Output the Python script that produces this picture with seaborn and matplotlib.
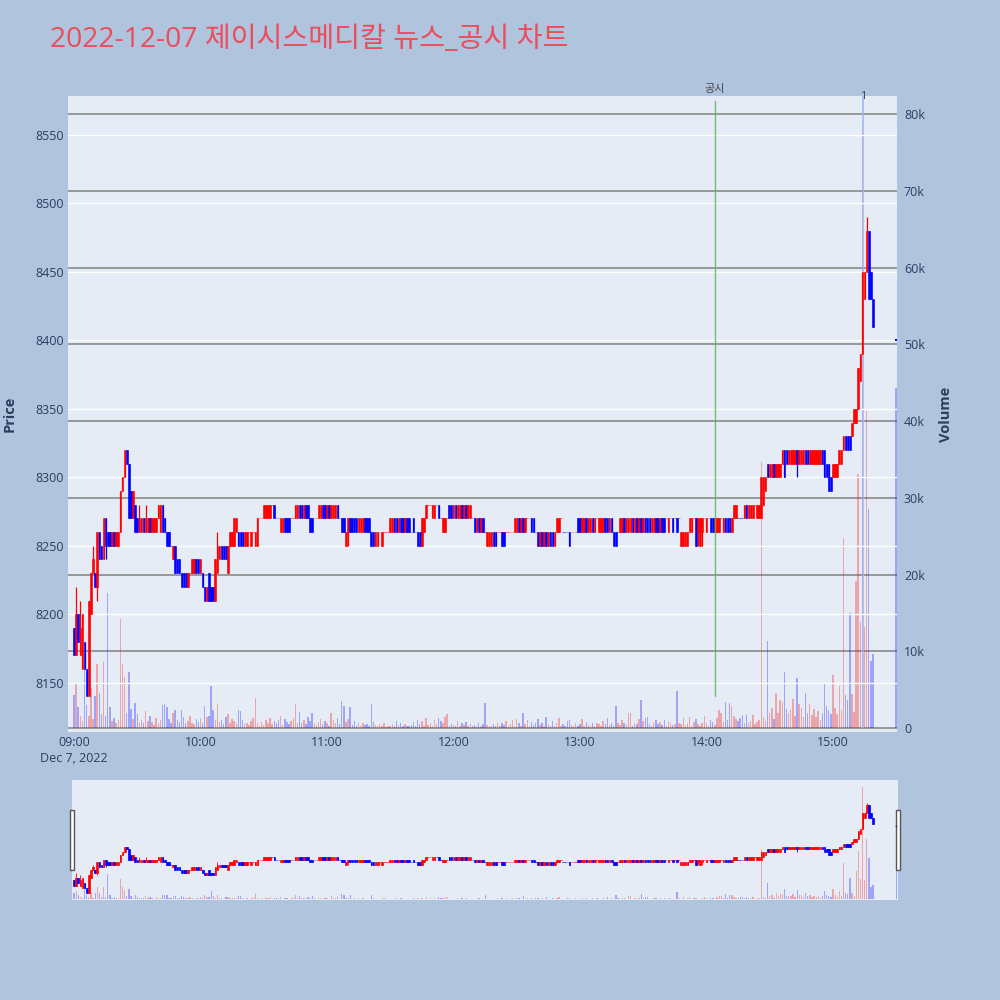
import matplotlib
matplotlib.use("Agg")
import matplotlib.pyplot as plt
import matplotlib.transforms as mtransforms
from matplotlib.patches import Rectangle
import pandas as pd
import seaborn as sns

TITLE = "2022-12-07 제이시스메디칼 뉴스_공시 차트"

# one candle per minute, minute 0 = 09:00
open_prices = [
    8190, 8170, 8200, 8170, 8160, 8180, 8160, 8140, 8200, 8230,
    8230, 8220, 8260, 8250, 8240, 8270, 8260, 8260, 8250, 8260,
    8250, 8250, 8260, 8290, 8300, 8320, 8310, 8290, 8270, 8280,
    8270, 8260, 8260, 8270, 8260, 8260, 8270, 8260, 8260, 8260,
    8270, 8260, 8280, 8270, 8260, 8260, 8250, 8240, 8250, 8240,
    8240, 8230, 8230, 8230, 8220, 8230, 8230, 8230, 8240, 8240,
    8230, 8230, 8220, 8210, 8230, 8220, 8220, 8210, 8230, 8240,
    8250, 8250, 8250, 8230, 8250, 8250, 8250, 8260, 8260, 8260,
    8260, 8250, 8250, 8260, 8250, 8260, 8250, 8250, 8270, 8270,
    8270, 8270, 8270, 8270, 8280, 8280, 8270, 8270, 8260, 8260,
    8270, 8270, 8270, 8270, 8270, 8270, 8270, 8280, 8280, 8270,
    8280, 8280, 8270, 8270, 8270, 8270, 8270, 8270, 8280, 8280,
    8270, 8280, 8270, 8270, 8270, 8280, 8270, 8270, 8270, 8250,
    8260, 8270, 8270, 8270, 8270, 8260, 8260, 8260, 8270, 8270,
    8270, 8260, 8260, 8250, 8250, 8260, 8250, 8260, 8260, 8260,
    8260, 8260, 8270, 8270, 8260, 8270, 8270, 8260, 8270, 8270,
    8260, 8270, 8260, 8260, 8260, 8250, 8260, 8270, 8280, 8280,
    8270, 8270, 8280, 8280, 8270, 8260, 8260, 8270, 8280, 8280,
    8270, 8280, 8270, 8270, 8280, 8270, 8280, 8270, 8270, 8270,
    8270, 8260, 8270, 8260, 8270, 8260, 8250, 8250, 8250, 8260,
    8260, 8260, 8260, 8260, 8260, 8260, 8260, 8260, 8260, 8260,
    8260, 8270, 8260, 8270, 8260, 8270, 8270, 8270, 8270, 8260,
    8260, 8250, 8260, 8250, 8260, 8250, 8260, 8260, 8250, 8260,
    8260, 8270, 8260, 8260, 8260, 8260, 8260, 8260, 8260, 8270,
    8270, 8260, 8260, 8270, 8260, 8260, 8270, 8260, 8270, 8260,
    8260, 8260, 8270, 8270, 8260, 8270, 8260, 8260, 8260, 8260,
    8260, 8270, 8260, 8260, 8260, 8270, 8260, 8270, 8260, 8270,
    8260, 8270, 8270, 8270, 8260, 8260, 8270, 8270, 8260, 8270,
    8270, 8270, 8260, 8270, 8270, 8270, 8270, 8270, 8250, 8250,
    8250, 8250, 8260, 8260, 8270, 8270, 8260, 8250, 8260, 8270,
    8260, 8270, 8270, 8270, 8260, 8260, 8260, 8270, 8260, 8270,
    8270, 8270, 8260, 8270, 8270, 8270, 8270, 8270, 8270, 8280,
    8270, 8270, 8270, 8280, 8270, 8270, 8270, 8280, 8290, 8310,
    8300, 8300, 8310, 8300, 8300, 8300, 8310, 8320, 8320, 8310,
    8310, 8310, 8310, 8320, 8310, 8310, 8310, 8320, 8320, 8310,
    8310, 8310, 8310, 8310, 8310, 8320, 8320, 8310, 8310, 8300,
    8300, 8300, 8300, 8310, 8310, 8320, 8330, 8330, 8330, 8330,
    8340, 8340, 8350, 8370, 8390, 8430, 8450, 8480, 8450, 8430,
]
close_prices = [
    8170, 8200, 8180, 8190, 8200, 8160, 8140, 8210, 8230, 8240,
    8220, 8260, 8240, 8240, 8270, 8250, 8250, 8250, 8260, 8250,
    8260, 8260, 8290, 8300, 8320, 8310, 8270, 8270, 8290, 8260,
    8260, 8270, 8270, 8260, 8270, 8270, 8260, 8270, 8270, 8270,
    8280, 8280, 8260, 8260, 8250, 8250, 8250, 8250, 8230, 8230,
    8230, 8220, 8220, 8220, 8230, 8230, 8240, 8240, 8230, 8230,
    8240, 8220, 8210, 8220, 8210, 8210, 8210, 8240, 8250, 8250,
    8240, 8240, 8240, 8250, 8260, 8260, 8270, 8270, 8250, 8250,
    8250, 8260, 8260, 8260, 8260, 8260, 8260, 8270, 8270, 8270,
    8280, 8280, 8280, 8280, 8280, 8270, 8270, 8270, 8270, 8270,
    8260, 8260, 8260, 8270, 8270, 8280, 8280, 8270, 8270, 8280,
    8270, 8270, 8260, 8260, 8270, 8270, 8280, 8280, 8270, 8270,
    8280, 8270, 8280, 8280, 8280, 8270, 8270, 8260, 8260, 8260,
    8270, 8260, 8260, 8260, 8260, 8270, 8270, 8270, 8260, 8260,
    8260, 8250, 8250, 8260, 8260, 8260, 8260, 8260, 8260, 8260,
    8270, 8270, 8260, 8260, 8270, 8260, 8260, 8270, 8260, 8260,
    8260, 8260, 8260, 8250, 8250, 8270, 8270, 8280, 8280, 8280,
    8280, 8280, 8280, 8270, 8270, 8270, 8270, 8270, 8270, 8270,
    8280, 8270, 8280, 8280, 8270, 8280, 8270, 8280, 8280, 8270,
    8260, 8270, 8260, 8270, 8260, 8260, 8260, 8260, 8260, 8250,
    8250, 8260, 8260, 8250, 8250, 8260, 8260, 8260, 8260, 8270,
    8270, 8260, 8270, 8260, 8270, 8270, 8270, 8260, 8260, 8260,
    8250, 8260, 8250, 8260, 8250, 8260, 8250, 8250, 8260, 8270,
    8270, 8270, 8260, 8260, 8260, 8250, 8260, 8260, 8260, 8260,
    8260, 8270, 8270, 8260, 8270, 8270, 8260, 8270, 8270, 8270,
    8270, 8270, 8260, 8260, 8270, 8260, 8250, 8250, 8260, 8270,
    8270, 8260, 8270, 8270, 8270, 8260, 8270, 8260, 8270, 8260,
    8270, 8260, 8260, 8260, 8270, 8270, 8260, 8260, 8270, 8260,
    8260, 8270, 8270, 8270, 8260, 8270, 8260, 8270, 8260, 8260,
    8260, 8260, 8270, 8270, 8270, 8250, 8270, 8270, 8270, 8270,
    8270, 8270, 8260, 8260, 8270, 8270, 8270, 8270, 8270, 8260,
    8260, 8260, 8270, 8280, 8280, 8270, 8270, 8270, 8280, 8270,
    8280, 8280, 8280, 8280, 8280, 8280, 8300, 8300, 8300, 8300,
    8310, 8310, 8300, 8310, 8310, 8310, 8320, 8300, 8310, 8320,
    8320, 8320, 8320, 8310, 8320, 8320, 8320, 8310, 8310, 8320,
    8320, 8320, 8320, 8320, 8320, 8310, 8300, 8300, 8290, 8290,
    8310, 8310, 8310, 8320, 8320, 8330, 8320, 8320, 8320, 8340,
    8350, 8350, 8380, 8390, 8450, 8450, 8480, 8430, 8430, 8410,
]
volumes = [
    4300, 5900, 2800, 1500, 900, 7600, 3000, 1600, 5200, 1200,
    4200, 8300, 4500, 1800, 8600, 1500, 17600, 2800, 900, 1300,
    600, 1100, 14200, 8400, 6700, 1900, 7300, 2500, 1200, 3200,
    1800, 700, 1100, 600, 2200, 900, 1500, 800, 400, 1300,
    600, 1000, 3000, 3100, 2800, 1200, 700, 1900, 2400, 1100,
    800, 2300, 1400, 600, 900, 1500, 700, 500, 1200, 800,
    1300, 600, 2900, 1400, 1500, 5500, 2300, 1100, 3100, 800,
    1000, 500, 1400, 1800, 700, 1200, 900, 600, 2300, 2200,
    1100, 500, 700, 400, 900, 1300, 3900, 600, 300, 800,
    400, 1000, 600, 1300, 500, 900, 700, 1100, 1500, 400,
    1200, 800, 500, 900, 1300, 3100, 700, 2100, 600, 1000,
    500, 1400, 900, 1900, 600, 400, 800, 1200, 500, 900,
    700, 300, 1900, 1000, 600, 1300, 500, 3500, 2900, 800,
    1200, 2800, 400, 900, 300, 700, 200, 600, 400, 500,
    300, 3100, 800, 400, 200, 500, 300, 600, 100, 300,
    200, 500, 300, 900, 400, 700, 200, 500, 300, 200,
    400, 800, 300, 1100, 500, 900, 300, 1300, 400, 700,
    200, 1100, 500, 1300, 900, 600, 1400, 1800, 300, 500,
    400, 200, 900, 300, 600, 400, 800, 200, 500, 300,
    400, 300, 600, 200, 500, 3200, 400, 300, 200, 500,
    300, 700, 200, 600, 400, 900, 300, 500, 1000, 300,
    1200, 700, 300, 1900, 500, 1100, 200, 800, 400, 600,
    1200, 400, 700, 300, 1400, 500, 300, 900, 200, 600,
    1300, 200, 500, 300, 900, 1100, 400, 300, 700, 200,
    500, 1200, 300, 800, 400, 200, 600, 300, 700, 500,
    300, 900, 500, 1300, 400, 700, 300, 2900, 600, 400,
    1000, 600, 500, 2000, 1900, 300, 700, 500, 1200, 3700,
    900, 1300, 1400, 500, 300, 700, 1000, 500, 800, 400,
    1100, 300, 900, 600, 400, 500, 4800, 700, 500, 1300,
    400, 600, 1400, 300, 800, 1200, 500, 300, 700, 1500,
    600, 300, 1000, 800, 400, 1300, 2400, 1900, 800, 3400,
    1100, 3200, 2900, 1600, 1200, 900, 1300, 1700, 700, 1700,
    600, 900, 1700, 500, 800, 1000, 34600, 1400, 900, 11300,
    1900, 2600, 1200, 4600, 2000, 3600, 3400, 7300, 2500, 1900,
    2400, 3800, 1600, 6500, 3100, 2600, 1400, 4600, 2000, 3100,
    1700, 2500, 1400, 2200, 1100, 1900, 5700, 2900, 2300, 1800,
    6900, 2600, 1800, 5500, 2400, 24800, 4300, 3600, 15000, 4400,
    2100, 19200, 33100, 13800, 77700, 13200, 41300, 28500, 8700, 9700,
]

# candles whose wick reaches past the body
wick_minutes = [1, 3, 9, 11, 15, 31, 34, 68, 130, 296, 298, 343, 376]
wick_highs = [8220, 8210, 8250, 8260, 8270, 8280, 8280, 8260, 8270, 8270, 8270, 8320, 8490]
wick_lows = [8170, 8170, 8230, 8210, 8240, 8260, 8260, 8230, 8250, 8250, 8250, 8300, 8450]

# 15:30 closing auction
auction_minute = 390
auction_price = 8400
auction_volume = 44300

notice_minute = 304
notice_label = "공시"
notice_span = [8140, 8575]
news_minute = 374.5
news_label = "1"

price_ticks = [8150, 8200, 8250, 8300, 8350, 8400, 8450, 8500, 8550]
volume_ticks = [0, 10000, 20000, 30000, 40000, 50000, 60000, 70000, 80000]
volume_labels = ["0", "10k", "20k", "30k", "40k", "50k", "60k", "70k", "80k"]
hour_ticks = [0, 60, 120, 180, 240, 300, 360]
hour_labels = ["09:00\nDec 7, 2022", "10:00", "11:00", "12:00", "13:00", "14:00", "15:00"]

UP = "#ff0000"
DOWN = "#0000ff"
PLOT_BG = "#e5ecf6"
PAGE_BG = "#b0c4de"
TEXT = "#2a3f5f"
PRICE_LIM = (8114, 8578.5)
VOL_LIM = (-520, 82350)


def build_frame():
    n = len(open_prices)
    df = pd.DataFrame({
        "minute": list(range(n)) + [auction_minute],
        "open": open_prices + [auction_price],
        "close": close_prices + [auction_price],
        "volume": volumes + [auction_volume],
    })
    df["high"] = df[["open", "close"]].max(axis=1)
    df["low"] = df[["open", "close"]].min(axis=1)
    for m, hi, lo in zip(wick_minutes, wick_highs, wick_lows):
        df.loc[df["minute"] == m, "high"] = hi
        df.loc[df["minute"] == m, "low"] = lo

    # plotly style: a flat candle takes its direction from the previous close
    dirs = []
    prev_close, prev_up = None, False
    for o, c in zip(df["open"], df["close"]):
        if c > o:
            up = True
        elif c < o:
            up = False
        elif prev_close is not None and c != prev_close:
            up = c > prev_close
        else:
            up = prev_up
        dirs.append(up)
        prev_close, prev_up = c, up
    df["color"] = [UP if d else DOWN for d in dirs]
    return df


def draw_candles(ax_p, ax_v, df, wick_lw, body_lw, body_w, bar_w):
    colors = list(df["color"])
    ax_v.bar(df["minute"], df["volume"], width=bar_w, color=colors,
             alpha=0.3, linewidth=0)
    ax_p.vlines(df["minute"], df["low"], df["high"], colors=colors, linewidth=wick_lw)
    bottom = df[["open", "close"]].min(axis=1)
    height = (df["close"] - df["open"]).abs()
    ax_p.bar(df["minute"], height, bottom=bottom, width=body_w, color=colors,
             edgecolor=colors, linewidth=body_lw)


def make_pair(fig, rect):
    ax_p = fig.add_axes(rect)
    ax_v = ax_p.twinx()
    ax_p.set_zorder(ax_v.get_zorder() + 1)
    ax_p.patch.set_visible(False)
    ax_v.patch.set_visible(True)
    ax_v.patch.set_facecolor(PLOT_BG)
    for ax in (ax_p, ax_v):
        for s in ax.spines.values():
            s.set_visible(False)
        ax.tick_params(length=0, colors=TEXT, labelsize=9)
    ax_p.set_ylim(*PRICE_LIM)
    ax_v.set_ylim(*VOL_LIM)
    return ax_p, ax_v


def main():
    df = build_frame()

    sns.set_theme(style="darkgrid")
    plt.rcParams["font.family"] = ["Open Sans", "Noto Sans CJK KR", "DejaVu Sans"]

    fig = plt.figure(figsize=(10, 10), dpi=100, facecolor=PAGE_BG)

    # main chart
    ax_p, ax_v = make_pair(fig, [0.068, 0.268, 0.829, 0.636])
    draw_candles(ax_p, ax_v, df, wick_lw=0.9, body_lw=0.4, body_w=0.75, bar_w=0.7)
    ax_p.set_xlim(-2.85, 390.4)

    ax_p.grid(False)
    ax_v.grid(False)
    ax_p.yaxis.grid(True, color="white", linewidth=1.0)
    ax_v.yaxis.grid(True, color="#8a8a8a", linewidth=1.2)

    ax_p.set_yticks(price_ticks)
    ax_p.set_yticklabels([str(t) for t in price_ticks])
    ax_v.set_yticks(volume_ticks)
    ax_v.set_yticklabels(volume_labels)
    ax_p.set_xticks(hour_ticks)
    ax_p.set_xticklabels(hour_labels, linespacing=1.3)
    ax_p.tick_params(axis="x", pad=3)
    ax_p.tick_params(axis="y", pad=3)
    ax_v.tick_params(axis="y", pad=5)

    ax_p.set_ylabel("Price", fontsize=10.5, fontweight="bold", color=TEXT)
    ax_p.yaxis.set_label_coords(-0.062, 0.5)
    ax_v.set_ylabel("Volume", fontsize=10.5, fontweight="bold", color=TEXT)
    ax_v.yaxis.set_label_coords(1.051, 0.5)

    # 공시 marker and news marker
    ax_p.plot([notice_minute, notice_minute], notice_span, color="#5cb85c",
              alpha=0.85, linewidth=1)
    ax_v.vlines(news_minute, 0, VOL_LIM[1], colors="#9fb4ee", linewidth=1.2, alpha=0.9)
    trans = mtransforms.blended_transform_factory(ax_p.transData, ax_p.transAxes)
    ax_p.text(notice_minute, 1.01, notice_label, transform=trans, ha="center",
              va="center", fontsize=8, color="#444444")
    ax_p.text(news_minute, 0.999, news_label, transform=trans, ha="center",
              va="center", fontsize=8, color="#444444")

    sns.scatterplot(x=[auction_minute], y=[auction_price], ax=ax_p, color=DOWN,
                    s=4, marker="s", linewidth=0, legend=False)

    # range slider
    ax_sp, ax_sv = make_pair(fig, [0.072, 0.100, 0.826, 0.120])
    draw_candles(ax_sp, ax_sv, df, wick_lw=0.6, body_lw=0.5, body_w=0.8, bar_w=0.6)
    ax_sp.set_xlim(-1, 390.8)
    for ax in (ax_sp, ax_sv):
        ax.grid(False)
        ax.set_xticks([])
        ax.set_yticks([])
    for x0 in (0.0695, 0.8955):
        fig.add_artist(Rectangle((x0, 0.13), 0.0045, 0.06, transform=fig.transFigure,
                                 facecolor="white", edgecolor="#555555", linewidth=1))

    fig.text(0.05, 0.96, TITLE, ha="left", va="center", fontsize=20.3, color="#eb4d5c")

    fig.savefig("out.png", dpi=100, facecolor=PAGE_BG)
    plt.close(fig)


if __name__ == "__main__":
    main()
